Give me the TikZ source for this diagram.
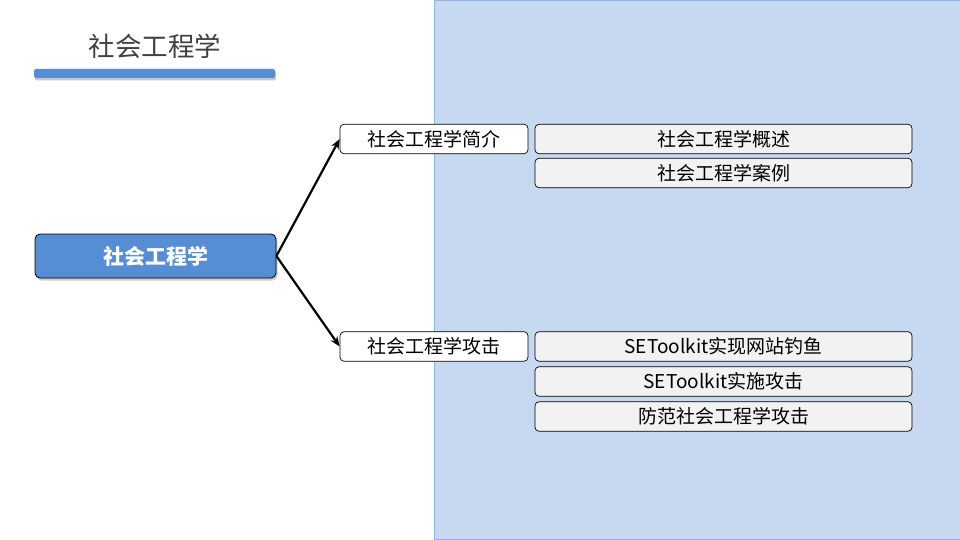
\documentclass[tikz,border=0pt]{standalone}
\usepackage{fontspec}
\setmainfont{Noto Sans CJK SC}
\usetikzlibrary{arrows.meta,shadows}
\definecolor{bgfill}{HTML}{C6D9F0}
\definecolor{bgline}{HTML}{8EB4E3}
\definecolor{mainblue}{HTML}{558ED5}
\definecolor{boxgray}{HTML}{F2F2F2}
\definecolor{titlegray}{HTML}{404040}
\tikzset{
  mainbox/.style={draw=black, line width=0.8pt, fill=mainblue, rounded corners=5pt, minimum width=241pt, minimum height=44pt, text=white, font=\bfseries\fontsize{21pt}{23pt}\selectfont, drop shadow={opacity=0.4, shadow xshift=1.5pt, shadow yshift=-2.5pt}},
  branchbox/.style={draw=black, line width=0.7pt, fill=white, rounded corners=4pt, minimum width=188pt, minimum height=29.5pt, inner sep=0pt, font=\fontsize{19pt}{21pt}\selectfont},
  leafbox/.style={draw=black, line width=0.7pt, fill=boxgray, rounded corners=4pt, minimum width=377pt, minimum height=29.5pt, inner sep=0pt, font=\fontsize{19pt}{21pt}\selectfont},
  link/.style={line width=2.2pt, -{Stealth[length=10pt,width=8pt]}}
}
\begin{document}
\begin{tikzpicture}[x=1pt,y=-1pt]
\useasboundingbox (0,0) rectangle (960,540);
\fill[bgfill] (434,0.5) rectangle (962,539.5);
\draw[bgline, line width=1pt] (962,0.5) -- (434,0.5) -- (434,539.5) -- (962,539.5);
\node[text=titlegray, font=\fontsize{26.5pt}{28pt}\selectfont] (title) at (155,46) {社会工程学};
\fill[mainblue, rounded corners=2pt, drop shadow={opacity=0.45, shadow xshift=1pt, shadow yshift=-2.5pt}] (34,69) rectangle (275,78);
\node[mainbox] (main) at (155.5,256) {社会工程学};
\node[branchbox] (b1) at (434,139) {社会工程学简介};
\node[branchbox] (b2) at (434,346.5) {社会工程学攻击};
\node[leafbox] (l1) at (723.5,139) {社会工程学概述};
\node[leafbox] (l2) at (723.5,173) {社会工程学案例};
\node[leafbox] (l3) at (723.5,346.5) {SEToolkit实现网站钓鱼};
\node[leafbox] (l4) at (723.5,381.5) {SEToolkit实施攻击};
\node[leafbox] (l5) at (723.5,416.5) {防范社会工程学攻击};
\draw[link] (main.east) -- (b1.west);
\draw[link] (main.east) -- (b2.west);
\end{tikzpicture}
\end{document}
